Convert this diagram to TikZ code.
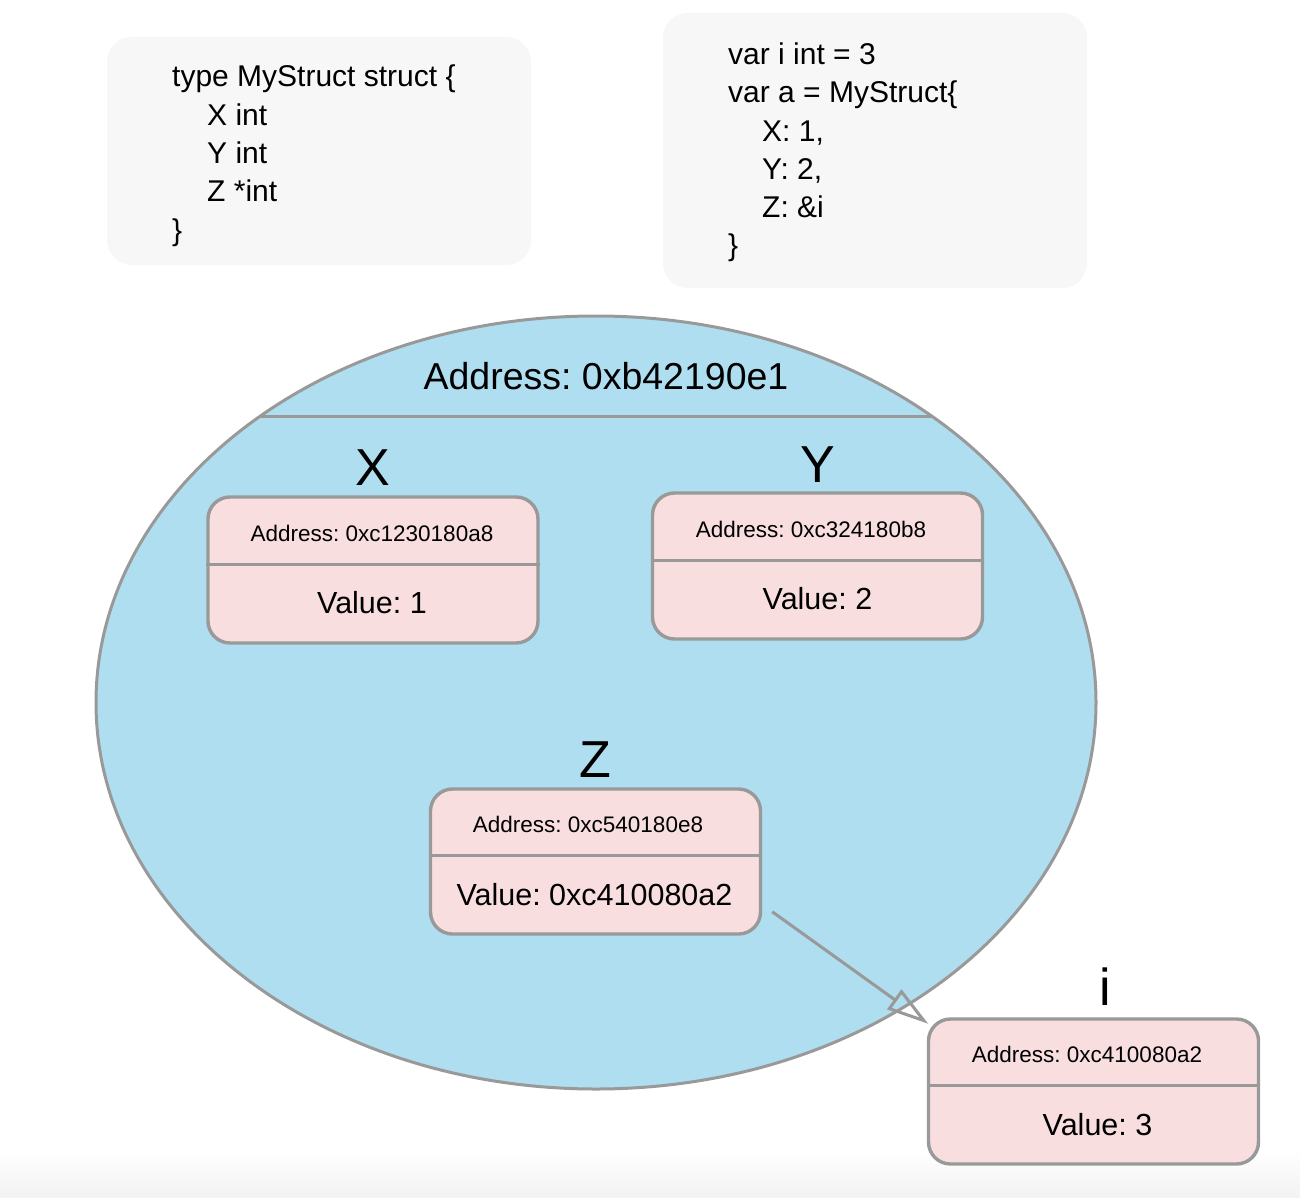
\documentclass[tikz,border=0pt]{standalone}
\usepackage{fontspec}
\setmainfont{Liberation Sans}
\usetikzlibrary{shapes.geometric,arrows.meta,calc}
\definecolor{ellblue}{RGB}{174,222,239}
\definecolor{boxpink}{RGB}{248,222,223}
\definecolor{linegray}{RGB}{153,153,153}
\definecolor{codebg}{RGB}{247,247,247}
\frenchspacing
\begin{document}
\begin{tikzpicture}[x=1pt,y=-1pt,
  codebox/.style={rectangle, rounded corners=25pt, fill=codebg, inner sep=0pt},
  codetext/.style={inner sep=0pt, anchor=base west, font=\fontsize{30}{38.3}\selectfont\frenchspacing},
  structell/.style={ellipse, draw=linegray, fill=ellblue, line width=3pt, inner sep=0pt,
    minimum width=1000pt, minimum height=773pt},
  membox/.style={rectangle, rounded corners=22pt, draw=linegray, fill=boxpink, line width=3.4pt,
    inner sep=0pt, minimum width=330pt, minimum height=146pt},
  divider/.style={draw=linegray, line width=3pt},
  addrtext/.style={inner sep=0pt, anchor=base, font=\fontsize{22.5}{27}\selectfont\frenchspacing},
  valtext/.style={inner sep=0pt, anchor=base, font=\fontsize{30.5}{36}\selectfont\frenchspacing},
  titletext/.style={inner sep=0pt, anchor=base, font=\fontsize{37.5}{45}\selectfont\frenchspacing},
  fieldlabel/.style={inner sep=0pt, anchor=base, font=\fontsize{52}{60}\selectfont},
  ptr/.style={draw=linegray, line width=3pt, -{Triangle[open, length=42pt, width=24pt]}}
]
% canvas
\fill[white] (0,0) rectangle (1300,1198);
\shade[top color=white, bottom color=black!5] (0,1150) rectangle (1300,1198);
\useasboundingbox (0,0) rectangle (1300,1198);

% code boxes
\node[codebox, minimum width=424pt, minimum height=228pt] (cb1) at (319,151) {};
\node[codetext] (ct1) at (172,87) {\begin{tabular}[t]{@{}l@{}}
type MyStruct struct \{\\
\hspace*{35pt}X int\\
\hspace*{35pt}Y int\\
\hspace*{35pt}Z *int\\
\}
\end{tabular}};

\node[codebox, minimum width=424pt, minimum height=275pt] (cb2) at (875,150.5) {};
\node[codetext] (ct2) at (728,64.5) {\begin{tabular}[t]{@{}l@{}}
var i int = 3\\
var a = MyStruct\{\\
\hspace*{34pt}X: 1,\\
\hspace*{34pt}Y: 2,\\
\hspace*{34pt}Z: \&i\\
\}
\end{tabular}};

% struct ellipse
\node[structell] (st) at (596,702.5) {};
\node[titletext] (sttitle) at (606,389) {Address: 0xb42190e1};
\coordinate (chl) at ($(st.center)+(-335.6,-286.5)$);
\coordinate (chr) at ($(st.center)+(335.6,-286.5)$);
\draw[divider] (chl) -- (chr);

% X field
\node[fieldlabel] (xl) at (373,485) {X};
\node[membox] (xb) at (373,570) {};
\draw[divider] ($(xb.north west)+(0,69)$) -- ($(xb.north east)+(0,69)$);
\node[addrtext] (xa) at ($(xb.north)+(-1,46)$) {Address: 0xc1230180a8};
\node[valtext] (xv) at ($(xb.north)+(-1,118)$) {Value: 1};

% Y field
\node[fieldlabel] (yl) at (818,482) {Y};
\node[membox] (yb) at (817.5,566) {};
\draw[divider] ($(yb.north west)+(0,69)$) -- ($(yb.north east)+(0,69)$);
\node[addrtext] (ya) at ($(yb.north)+(-6.5,46)$) {Address: 0xc324180b8};
\node[valtext] (yv) at ($(yb.north)+(0,118)$) {Value: 2};

% Z field
\node[fieldlabel] (zl) at (595,777) {Z};
\node[membox, minimum height=145pt] (zb) at (595.5,861.5) {};
\draw[divider] ($(zb.north west)+(0,68)$) -- ($(zb.north east)+(0,68)$);
\node[addrtext] (za) at ($(zb.north)+(-7.5,45)$) {Address: 0xc540180e8};
\node[valtext] (zv) at ($(zb.north)+(-1,118)$) {Value: 0xc410080a2};

% i variable
\node[fieldlabel] (il) at (1105,1005) {i};
\node[membox, minimum height=145pt] (ib) at (1093.5,1091.5) {};
\draw[divider] ($(ib.north west)+(0,68)$) -- ($(ib.north east)+(0,68)$);
\node[addrtext] (ia) at ($(ib.north)+(-6.5,45)$) {Address: 0xc410080a2};
\node[valtext] (iv) at ($(ib.north)+(4,118)$) {Value: 3};

% pointer
\draw[ptr] ($(zb.south east)+(10,-24)$) -- ($(ib.north west)+(1.5,6.5)$);
\end{tikzpicture}
\end{document}
